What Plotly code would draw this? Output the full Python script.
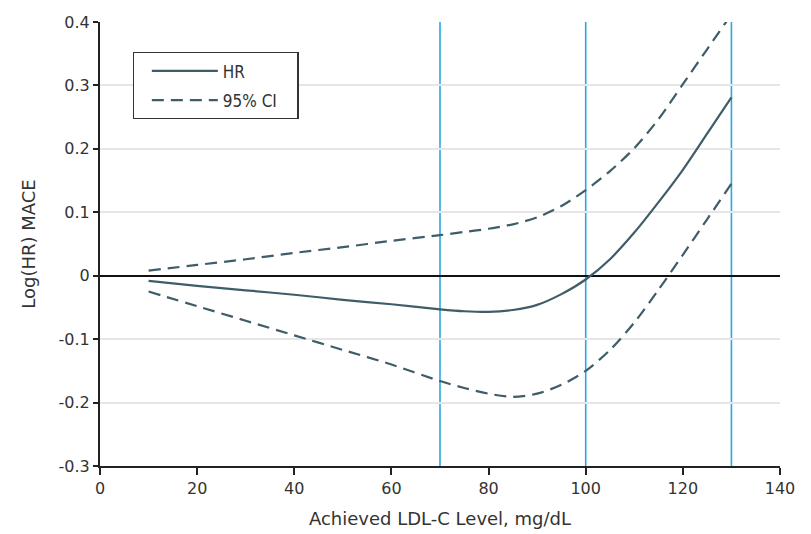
import plotly.graph_objects as go

ldl = [10, 20, 30, 40, 50, 60, 70, 75, 80, 85, 90, 95, 100, 105, 110, 115, 120, 125, 130]
hr = [-0.008, -0.016, -0.023, -0.030, -0.038, -0.045, -0.053, -0.056, -0.057, -0.054,
      -0.046, -0.029, -0.006, 0.026, 0.068, 0.116, 0.167, 0.224, 0.281]
ci_upper = [0.008, 0.017, 0.026, 0.036, 0.045, 0.055, 0.064, 0.069, 0.074, 0.081,
            0.092, 0.110, 0.135, 0.165, 0.201, 0.247, 0.302, 0.357, 0.412]
ci_lower = [-0.025, -0.048, -0.071, -0.094, -0.117, -0.140, -0.166, -0.177, -0.186, -0.191,
            -0.186, -0.172, -0.150, -0.117, -0.074, -0.022, 0.033, 0.089, 0.145]
ref_levels = [70, 100, 130]

x_ticks = [0, 20, 40, 60, 80, 100, 120, 140]
y_ticks = [0.4, 0.3, 0.2, 0.1, 0, -0.1, -0.2, -0.3]
y_tick_labels = ["0.4", "0.3", "0.2", "0.1", "0", "-0.1", "-0.2", "-0.3"]

LINE = "#3f5d68"
BLUE = "#29a9e1"
FONT = "DejaVu Sans"
DASH = "12px,7px"
PAD = "\u00a0\u00a0\u00a0"

fig = go.Figure()

for lv in ref_levels:
    fig.add_shape(type="line", xref="x", yref="paper", x0=lv, x1=lv, y0=0, y1=1,
                  line=dict(color=BLUE, width=1.6), layer="below")

fig.add_trace(go.Scatter(x=ldl, y=hr, mode="lines", name="HR" + PAD, legendgroup="hr",
                         line=dict(color=LINE, width=2.2, shape="spline", smoothing=0.8),
                         cliponaxis=False))
fig.add_trace(go.Scatter(x=ldl, y=ci_upper, mode="lines", name="95% CI" + PAD,
                         legendgroup="ci",
                         line=dict(color=LINE, width=2.2, dash=DASH, shape="spline", smoothing=0.8),
                         cliponaxis=False))
fig.add_trace(go.Scatter(x=ldl, y=ci_lower, mode="lines", name="95% CI",
                         legendgroup="ci", showlegend=False,
                         line=dict(color=LINE, width=2.2, dash=DASH, shape="spline", smoothing=0.8),
                         cliponaxis=False))

fig.update_layout(
    width=811, height=534,
    margin=dict(l=92, r=39, t=14, b=76, autoexpand=False),
    paper_bgcolor="white", plot_bgcolor="white",
    font=dict(family=FONT, size=16, color="#333333"),
    showlegend=True,
    legend=dict(x=0.048, y=0.932, xanchor="left", yanchor="top",
                bordercolor="#333333", borderwidth=1.2, bgcolor="white",
                font=dict(family="DejaVu Sans Condensed", size=17, color="#333333"),
                itemwidth=66, tracegroupgap=4, indentation=13),
    xaxis=dict(range=[0, 140], tickmode="array", tickvals=x_ticks, automargin=False,
               showgrid=False, zeroline=False,
               showline=True, linecolor="#222222", linewidth=2,
               ticks="outside", ticklen=7, tickwidth=1.5, tickcolor="#222222",
               title=dict(text="Achieved LDL-C Level, mg/dL", standoff=15,
                          font=dict(family=FONT, size=18, color="#333333"))),
    yaxis=dict(range=[-0.3, 0.4], tickmode="array", tickvals=y_ticks, ticktext=y_tick_labels,
               automargin=False,
               showgrid=True, gridcolor="#e6e6e6", gridwidth=1.5,
               zeroline=True, zerolinecolor="#111111", zerolinewidth=1.5,
               showline=True, linecolor="#222222", linewidth=2,
               ticks="outside", ticklen=5, tickwidth=1.5, tickcolor="#222222",
               title=dict(text="Log(HR) MACE", standoff=18,
                          font=dict(family=FONT, size=18, color="#333333"))),
)

fig.write_html("out.html")
